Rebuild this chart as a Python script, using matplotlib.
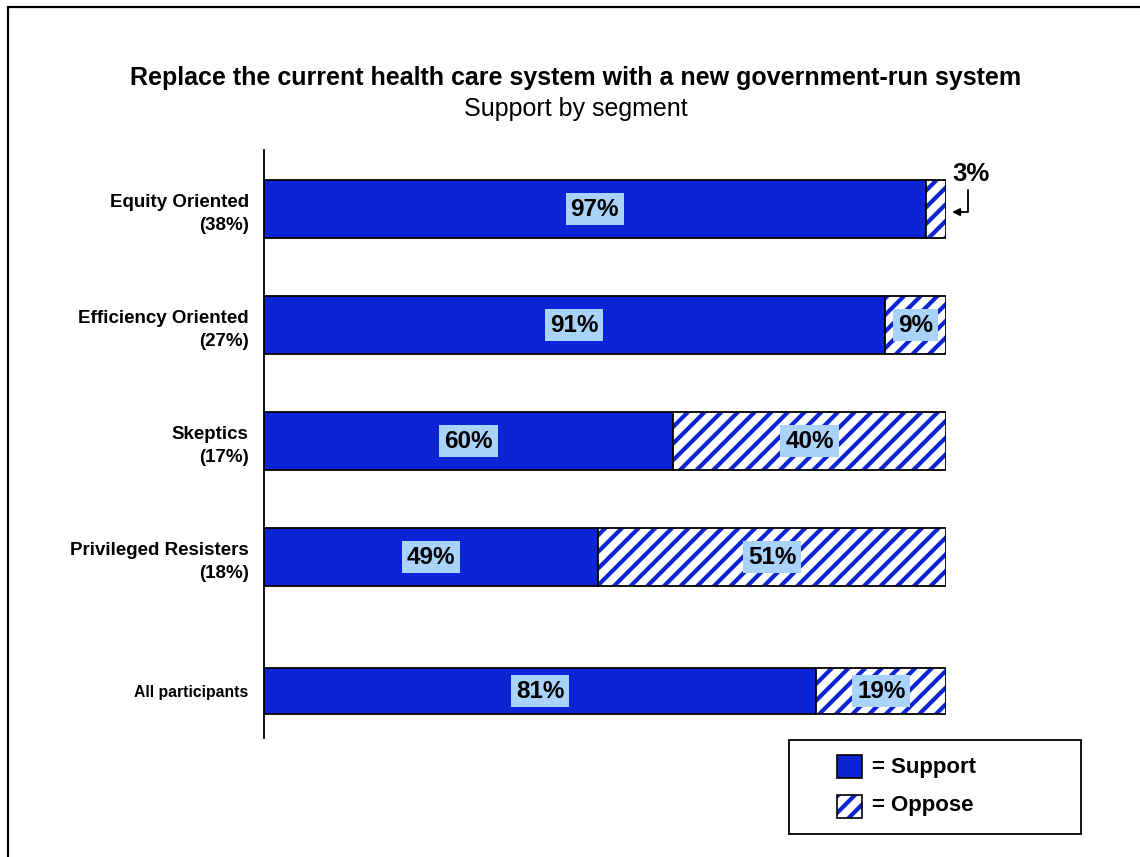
import matplotlib.pyplot as plt
from matplotlib.patches import Rectangle

plt.rcParams['font.family'] = ['Liberation Sans', 'DejaVu Sans']
plt.rcParams['hatch.linewidth'] = 3.0

segments = ['Equity Oriented\n(38%)', 'Efficiency Oriented\n(27%)', 'Skeptics\n(17%)',
            'Privileged Resisters\n(18%)', 'All participants']
support = [97, 91, 60, 49, 81]
oppose = [3, 9, 40, 51, 19]

blue = '#0a24d6'
label_bg = '#a9d3fa'
ypos = [0, 1, 2, 3, 4.155]
heights = [0.5, 0.5, 0.5, 0.5, 0.4]

fig = plt.figure(figsize=(11.4, 8.57), dpi=100)
# outer frame
fig.patches.append(Rectangle((8 / 1140, -0.05), 1.2, 1.05 - 7 / 857,
                             transform=fig.transFigure, fill=False,
                             edgecolor='black', linewidth=1.6))

ax = fig.add_axes([264 / 1140, 1 - 738 / 857, 682 / 1140, 588 / 857])
ax.barh(ypos, support, height=heights, color=blue, edgecolor='black', linewidth=1.3)
# hatched part: blue hatch on white, then black outline on top
ax.barh(ypos, oppose, left=support, height=heights, color='white', hatch='//',
        edgecolor=blue, linewidth=0)
ax.barh(ypos, oppose, left=support, height=heights, fill=False,
        edgecolor='black', linewidth=1.3)

ax.set_xlim(0, 100)
ax.set_ylim(4.56, -0.509)
ax.set_yticks(ypos)
ax.set_yticklabels(segments, fontweight='bold', fontsize=13.5, linespacing=1.45)
ax.get_yticklabels()[-1].set_fontsize(11.3)
ax.tick_params(axis='y', length=0, pad=11)
ax.set_xticks([])
for s in ['top', 'right', 'bottom']:
    ax.spines[s].set_visible(False)
ax.spines['left'].set_linewidth(1.3)

box = dict(boxstyle='square,pad=0.2', facecolor=label_bg, edgecolor='none')
for y, s, o in zip(ypos, support, oppose):
    ax.text(s / 2, y, f'{s}%', ha='center', va='center', fontsize=17.5,
            fontweight='bold', bbox=box)
    if o >= 5:
        ax.text(s + o / 2, y, f'{o}%', ha='center', va='center', fontsize=17.5,
                fontweight='bold', bbox=box)

# small value callout
ax.annotate('', xy=(100.9, 0.026), xytext=(103.2, -0.164),
            arrowprops=dict(arrowstyle='-|>', color='black', lw=1.3,
                            connectionstyle='angle,angleA=-90,angleB=180,rad=0',
                            shrinkA=0, shrinkB=0, mutation_scale=11),
            annotation_clip=False)
ax.text(103.6, -0.3, f'{oppose[0]}%', ha='center', va='center', fontsize=18.5,
        fontweight='bold', clip_on=False)

fig.text(576 / 1140, 1 - 78 / 857,
         'Replace the current health care system with a new government-run system',
         ha='center', va='center', fontsize=18, fontweight='bold')
fig.text(576 / 1140, 1 - 109 / 857, 'Support by segment', ha='center', va='center',
         fontsize=18)

# legend drawn by hand to keep the wide box
W, H = 1140, 857
fig.patches.append(Rectangle((789 / W, 1 - 834 / H), 292 / W, 94 / H,
                             transform=fig.transFigure, facecolor='white',
                             edgecolor='black', linewidth=1.3))
fig.patches.append(Rectangle((837 / W, 1 - 778 / H), 25 / W, 23 / H,
                             transform=fig.transFigure, facecolor=blue,
                             edgecolor='black', linewidth=1.2))
fig.patches.append(Rectangle((837 / W, 1 - 818 / H), 25 / W, 23 / H,
                             transform=fig.transFigure, facecolor='white', hatch='//',
                             edgecolor=blue, linewidth=0))
fig.patches.append(Rectangle((837 / W, 1 - 818 / H), 25 / W, 23 / H,
                             transform=fig.transFigure, fill=False,
                             edgecolor='black', linewidth=1.2))
fig.text(872 / W, 1 - 767 / H, '= Support', ha='left', va='center', fontsize=16,
         fontweight='bold')
fig.text(872 / W, 1 - 806 / H, '= Oppose', ha='left', va='center', fontsize=16,
         fontweight='bold')

fig.savefig('out.png', dpi=100)
